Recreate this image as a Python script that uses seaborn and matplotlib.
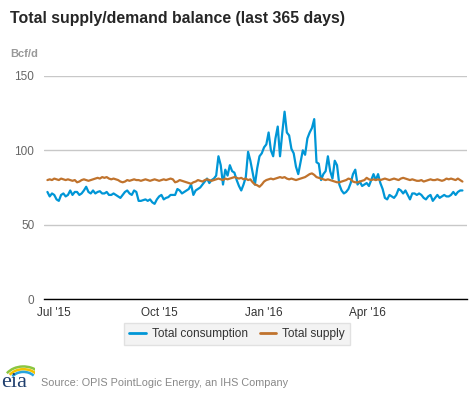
import pandas as pd
import numpy as np
import matplotlib.pyplot as plt
import matplotlib.patches as mpatches
from matplotlib.lines import Line2D
import seaborn as sns

# Daily balance sampled every second day, 2015-06-25 .. 2016-06-23 (Bcf/d)
start_date = '2015-06-25'
consumption = [
    72, 69, 71, 70, 67, 66, 70, 71, 69, 70,
    73, 70, 72, 72, 70, 71, 73, 75.5, 72, 71,
    73, 71, 72, 72.5, 71, 71, 72, 70, 70, 71,
    70, 69, 68, 70, 72, 73, 71, 70, 73, 72,
    66, 66, 66.5, 67, 66, 67, 65, 64, 67, 69,
    70, 67, 68, 68.5, 70, 70, 70, 74, 73, 71,
    72, 73, 74, 77, 70, 73, 74, 75, 77, 79,
    81, 78, 80, 81, 83, 96, 90, 77, 87, 83,
    90, 86, 85, 80, 76, 73, 77, 82, 99, 93,
    85, 77, 88, 96, 98, 102, 104, 112, 100, 96,
    108, 116, 96, 112, 126, 112, 110, 101, 98, 89,
    84, 92, 100, 97, 108, 112, 115, 121, 92, 91,
    80, 84, 86, 96, 86, 81, 93, 90, 77, 73,
    71, 72, 74, 78, 84, 87, 77, 79, 76, 77,
    78, 76, 80, 84, 80, 84, 78, 74, 68, 67,
    70, 69, 68, 70, 74, 73, 71, 73, 70, 67,
    71, 71, 70, 71, 70, 68, 67, 69, 70, 66,
    68, 70, 68, 69, 70, 69, 69, 70, 72, 70,
    72, 73, 73,
]
supply = [
    80, 80.5, 80, 81, 80.5, 80, 81, 80.5, 80, 80.5,
    80, 79.5, 80, 78.5, 79, 80, 80.5, 80, 79.5, 80,
    80.5, 81, 81.5, 81, 82, 81.5, 82, 81, 80.5, 81,
    80.5, 80, 79, 78.5, 79, 80, 79.5, 80, 80.5, 80,
    80, 79.5, 80, 80.5, 80, 79.5, 80, 80.5, 80, 79.5,
    80, 80.5, 80, 80.5, 81, 80.5, 78.5, 79, 80, 79.5,
    79, 78.5, 78, 77.5, 78.5, 79, 80, 79.5, 79, 80,
    80.5, 80, 79.5, 80, 80.5, 81, 80.5, 80, 81, 80.5,
    81, 81.5, 82, 81.5, 81, 81.5, 80.5, 81, 80, 80.5,
    78.5, 77, 76.5, 75.5, 77, 79, 80, 80.5, 81, 80.5,
    81, 81.5, 82, 81.5, 82, 81, 80.5, 81, 80.5, 80,
    80.5, 81, 81.5, 82, 83, 84, 84.5, 83.5, 82, 81.5,
    81, 80.5, 80, 80.5, 80, 79.5, 79, 78.5, 78.5, 79,
    79.5, 80, 81, 80.5, 79, 78.5, 78.5, 79, 79.5, 80,
    81.5, 80.5, 80, 80.5, 80, 80.5, 80, 80.5, 81, 80.5,
    80, 80.5, 81, 80.5, 80, 81, 81.5, 81, 80.5, 80,
    80.5, 80, 79.5, 79.5, 80, 79, 79.5, 80, 80.5, 80,
    80, 80.5, 80, 79.5, 80, 81, 80.5, 81, 80.5, 80,
    81, 80, 79,
]
series_names = ['Total consumption', 'Total supply']
series_colors = ['#0096d6', '#c0732d']
tick_dates = ['2015-07-01', '2015-10-01', '2016-01-01', '2016-04-01']
tick_labels = ["Jul '15", "Oct '15", "Jan '16", "Apr '16"]

dates = pd.date_range(start_date, periods=len(consumption), freq='2D')
df = pd.DataFrame({'date': dates, series_names[0]: consumption, series_names[1]: supply})
long = df.melt(id_vars='date', var_name='series', value_name='bcfd')

sns.set_style('white')
plt.rcParams['font.family'] = ['Liberation Sans', 'DejaVu Sans']

fig = plt.figure(figsize=(4.77, 3.93), dpi=100)
ax = fig.add_axes([44 / 477, 1 - 299 / 393, 423 / 477, 223 / 393])
sns.lineplot(data=long, x='date', y='bcfd', hue='series', hue_order=series_names,
             palette=series_colors, linewidth=1.6, legend=False, ax=ax)

ax.set_ylim(0, 150)
ax.set_yticks([0, 50, 100, 150])
ax.set_xlim(pd.Timestamp('2015-06-22'), pd.Timestamp('2016-06-27'))
ax.set_xticks(pd.to_datetime(tick_dates))
ax.set_xticklabels(tick_labels)
ax.set_xlabel('')
ax.set_ylabel('')
ax.grid(axis='y', color='#c8c8c8', linewidth=1)
ax.set_axisbelow(True)
for side in ['top', 'right', 'left']:
    ax.spines[side].set_visible(False)
ax.spines['bottom'].set_color('black')
ax.spines['bottom'].set_linewidth(1)
ax.tick_params(axis='y', length=0, labelsize=8.5, labelcolor='#666666', pad=7)
ax.tick_params(axis='x', length=5, width=1, color='black', labelsize=8.5,
               labelcolor='#333333', pad=1)

fig.text(10 / 477, 1 - 18 / 393, 'Total supply/demand balance (last 365 days)',
         fontsize=11.4, fontweight='bold', va='center', ha='left')
fig.text(10 / 477, 1 - 54 / 393, 'Bcf/d', fontsize=8, fontweight='bold',
         color='#999999', va='center', ha='left')

handles = [Line2D([], [], color=c, linewidth=2) for c in series_colors]
leg = fig.legend(handles, series_names, loc='center', ncol=2,
                 bbox_to_anchor=(237 / 477, 1 - 334 / 393), frameon=True,
                 fancybox=False, facecolor='#f0f0f0', edgecolor='#dcdcdc',
                 fontsize=8.6, handlelength=1.4, handletextpad=0.5,
                 columnspacing=1.0, borderpad=0.45)
for t in leg.get_texts():
    t.set_color('#333333')

fig.text(41 / 477, 1 - 383 / 393, 'Source: OPIS PointLogic Energy, an IHS Company',
         fontsize=7.8, color='#888888', va='center', ha='left')

# small eia mark
logo = fig.add_axes([1 / 477, 1 - 393 / 393, 34 / 477, 34 / 393])
logo.set_xlim(0, 1)
logo.set_ylim(0, 1)
logo.axis('off')
logo.text(0.4, 0.02, 'eia', fontsize=16, family='Liberation Serif',
          color='#1f3f6e', ha='center', va='bottom')
for r, col in [(0.6, '#8cc63f'), (0.5, '#f2c200'), (0.4, '#27a4dd')]:
    logo.add_patch(mpatches.Arc((0.66, 0.3), 2 * r, 1.6 * r, theta1=35, theta2=150,
                                color=col, linewidth=1.8))

fig.savefig('out.png', dpi=100)
